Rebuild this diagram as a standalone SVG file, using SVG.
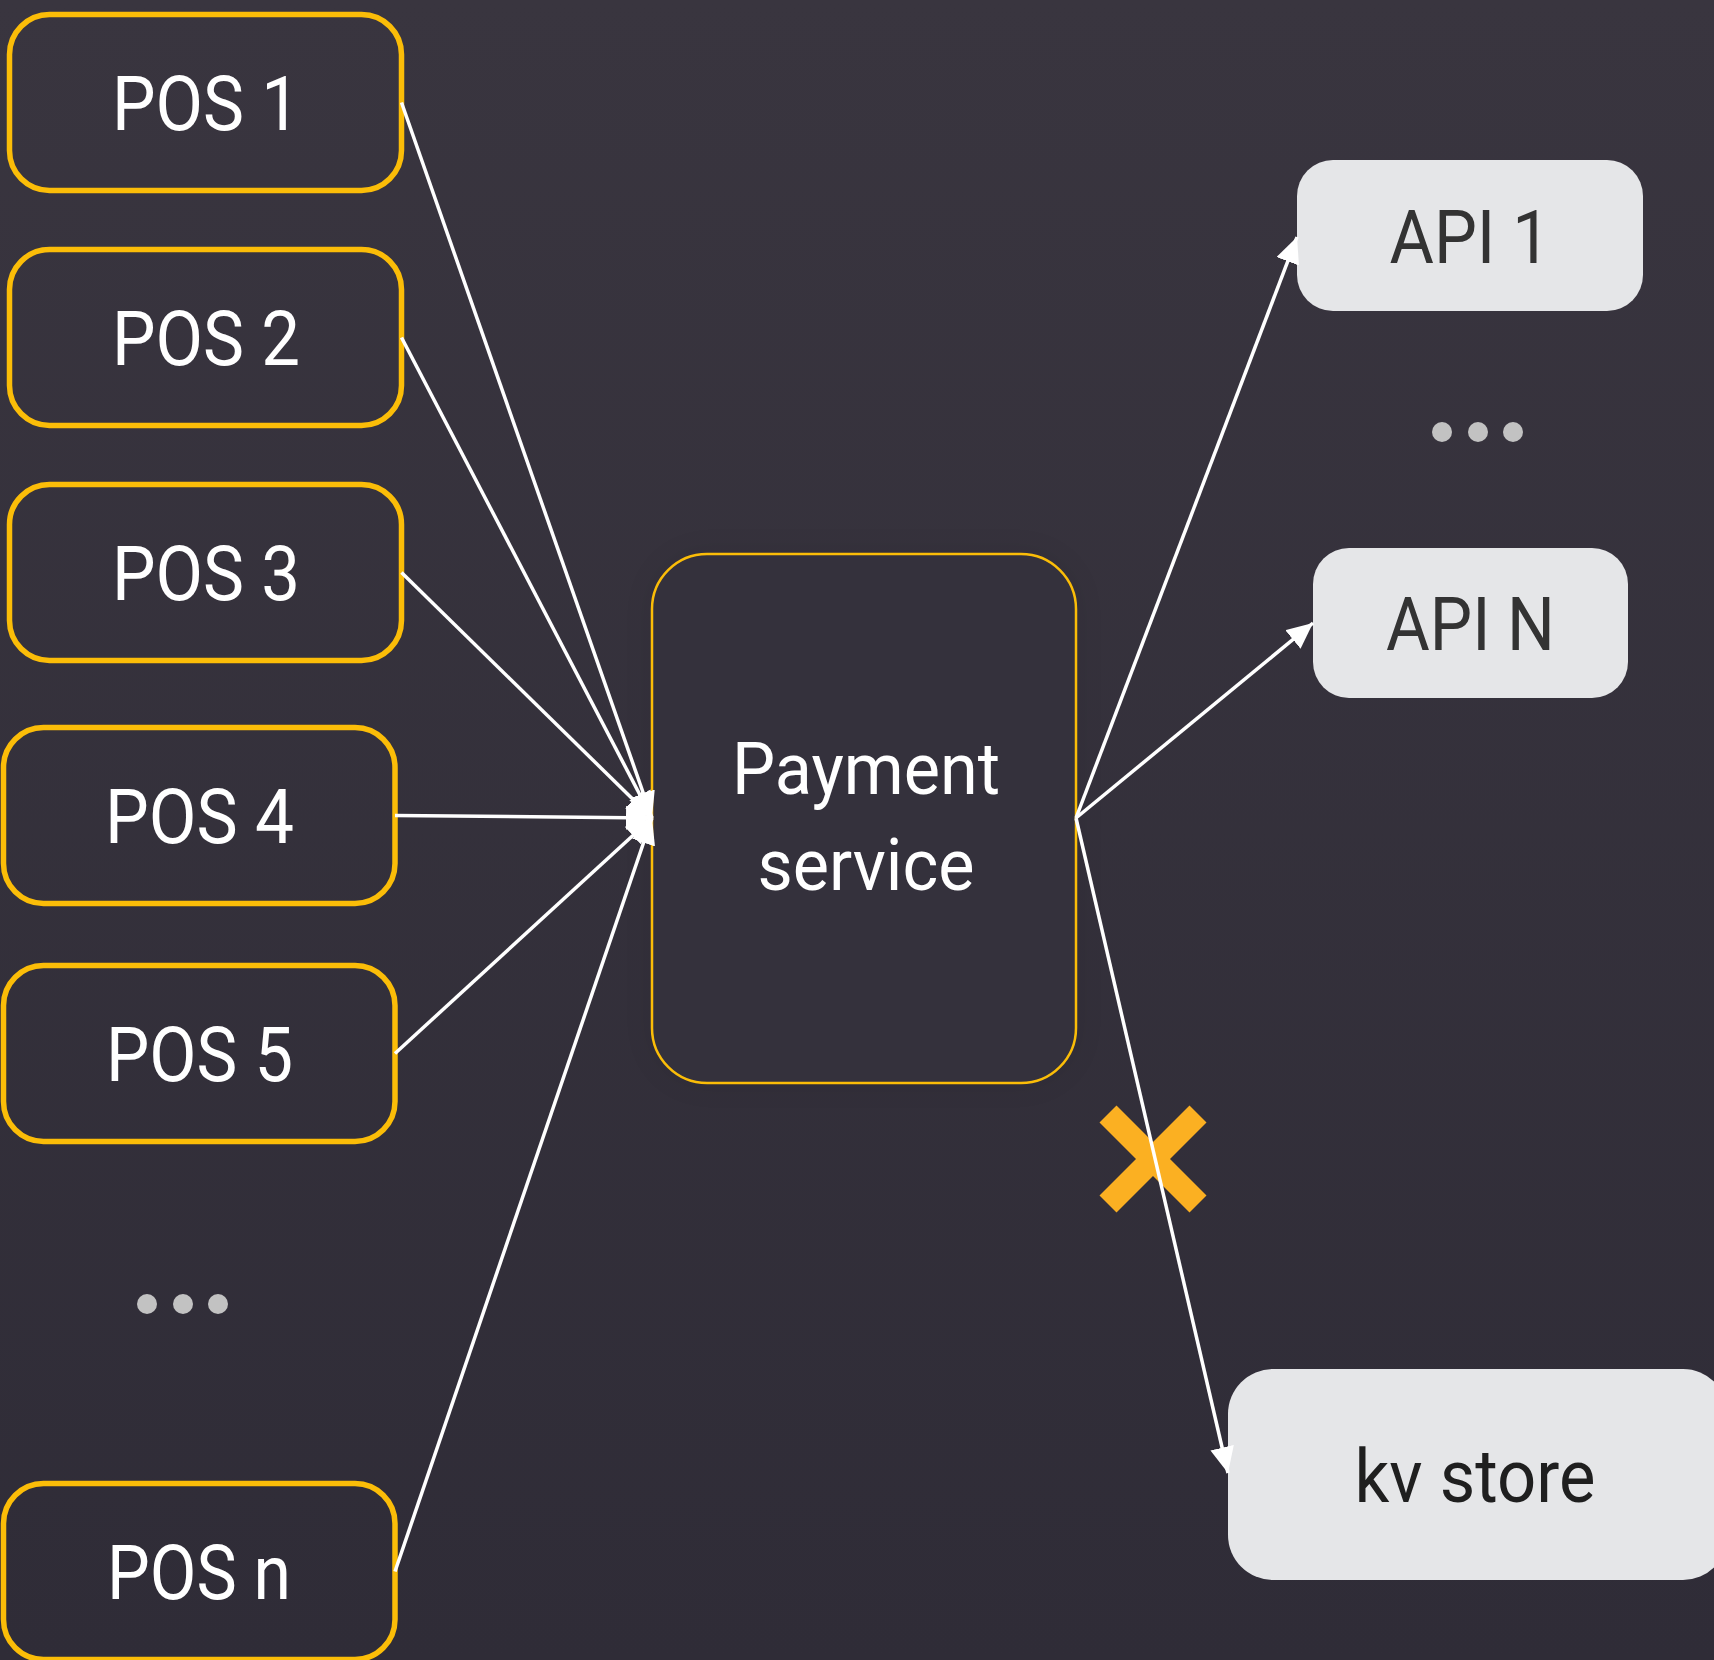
<svg xmlns="http://www.w3.org/2000/svg" width="1714" height="1660" viewBox="0 0 1714 1660">
  <defs>
    <linearGradient id="bg" x1="0" y1="0" x2="0" y2="1">
      <stop offset="0" stop-color="#39353f"/>
      <stop offset="1" stop-color="#2f2c37"/>
    </linearGradient>
    <filter id="shadow" x="-20%" y="-20%" width="140%" height="140%">
      <feGaussianBlur stdDeviation="16"/>
    </filter>
    <marker id="arrow" viewBox="0 0 26 24" refX="26" refY="12" markerWidth="26" markerHeight="24" markerUnits="userSpaceOnUse" orient="auto">
      <path d="M0,0 L26,12 L0,24 Z" fill="#ffffff"/>
    </marker>
  </defs>
  <style>
    .pos rect { fill: none; stroke: #fbbd08; stroke-width: 5.5; }
    .pos text { fill: #ffffff; font-family: Roboto, "Liberation Sans", sans-serif; font-size: 76px; text-anchor: middle; }
    .api rect { fill: #e5e6e8; }
    .api text { fill: #333333; font-family: Roboto, "Liberation Sans", sans-serif; font-size: 74px; text-anchor: middle; }
    .conn line { stroke: #ffffff; stroke-width: 3.5; marker-end: url(#arrow); }
    .dot { fill: #c2c2c2; }
  </style>

  <rect x="0" y="0" width="1714" height="1660" fill="url(#bg)"/>

  <g id="pos1" class="pos">
    <rect x="9.5" y="14.5" width="392" height="176" rx="40"/>
    <text x="206" y="130" textLength="188" lengthAdjust="spacingAndGlyphs">POS 1</text>
  </g>
  <g id="pos2" class="pos">
    <rect x="9.5" y="249.5" width="392" height="176" rx="40"/>
    <text x="206" y="365" textLength="188" lengthAdjust="spacingAndGlyphs">POS 2</text>
  </g>
  <g id="pos3" class="pos">
    <rect x="9.5" y="484.5" width="392" height="176" rx="40"/>
    <text x="206" y="600" textLength="188" lengthAdjust="spacingAndGlyphs">POS 3</text>
  </g>
  <g id="pos4" class="pos">
    <rect x="3.5" y="727.5" width="391.5" height="176" rx="40"/>
    <text x="199.5" y="843" textLength="189" lengthAdjust="spacingAndGlyphs">POS 4</text>
  </g>
  <g id="pos5" class="pos">
    <rect x="3.5" y="965.5" width="391.5" height="176" rx="40"/>
    <text x="199.5" y="1081" textLength="187" lengthAdjust="spacingAndGlyphs">POS 5</text>
  </g>
  <g id="pos-ellipsis">
    <circle class="dot" cx="147" cy="1304" r="10"/>
    <circle class="dot" cx="183" cy="1304" r="10"/>
    <circle class="dot" cx="218" cy="1304" r="10"/>
  </g>
  <g id="posn" class="pos">
    <rect x="3.5" y="1483.5" width="391.5" height="176" rx="40"/>
    <text x="199" y="1599" textLength="184" lengthAdjust="spacingAndGlyphs">POS n</text>
  </g>

  <g id="payment">
    <rect x="652" y="554" width="424" height="529" rx="55" fill="#000000" opacity="0.08" filter="url(#shadow)"/>
    <rect x="652" y="554" width="424" height="529" rx="55" fill="#34313c" stroke="#fbbd08" stroke-width="2.5"/>
    <text x="866" y="794" fill="#ffffff" font-family="Roboto, 'Liberation Sans', sans-serif" font-size="73" text-anchor="middle" textLength="268" lengthAdjust="spacingAndGlyphs">Payment</text>
    <text x="866" y="890" fill="#ffffff" font-family="Roboto, 'Liberation Sans', sans-serif" font-size="73" text-anchor="middle" textLength="217" lengthAdjust="spacingAndGlyphs">service</text>
  </g>

  <g id="api1" class="api">
    <rect x="1297" y="160" width="346" height="151" rx="36"/>
    <text x="1470" y="263" textLength="161" lengthAdjust="spacingAndGlyphs">API 1</text>
  </g>
  <g id="api-ellipsis">
    <circle class="dot" cx="1442" cy="432" r="10"/>
    <circle class="dot" cx="1478" cy="432" r="10"/>
    <circle class="dot" cx="1513" cy="432" r="10"/>
  </g>
  <g id="apin" class="api">
    <rect x="1313" y="548" width="315" height="150" rx="36"/>
    <text x="1470.5" y="650" textLength="169" lengthAdjust="spacingAndGlyphs">API N</text>
  </g>
  <g id="kv" class="api">
    <rect x="1228" y="1369" width="500" height="211" rx="45"/>
    <text x="1475" y="1502" font-size="75" textLength="241" lengthAdjust="spacingAndGlyphs" style="fill:#1f1f1f">kv store</text>
  </g>

  <g id="failure-mark" stroke="#fbb022" stroke-width="24" stroke-linecap="butt">
    <line x1="1108" y1="1114" x2="1198" y2="1204"/>
    <line x1="1198" y1="1114" x2="1108" y2="1204"/>
  </g>

  <g id="connectors" class="conn">
    <line x1="401.5" y1="102.5" x2="652" y2="818"/>
    <line x1="401.5" y1="337.5" x2="652" y2="818"/>
    <line x1="401.5" y1="572.5" x2="652" y2="818"/>
    <line x1="395" y1="815.5" x2="652" y2="818"/>
    <line x1="395" y1="1053.5" x2="652" y2="818"/>
    <line x1="395" y1="1571.5" x2="652" y2="818"/>
    <line x1="1076" y1="818" x2="1297" y2="237"/>
    <line x1="1076" y1="818" x2="1313" y2="623"/>
    <line x1="1076" y1="818" x2="1228" y2="1473"/>
  </g>
</svg>
